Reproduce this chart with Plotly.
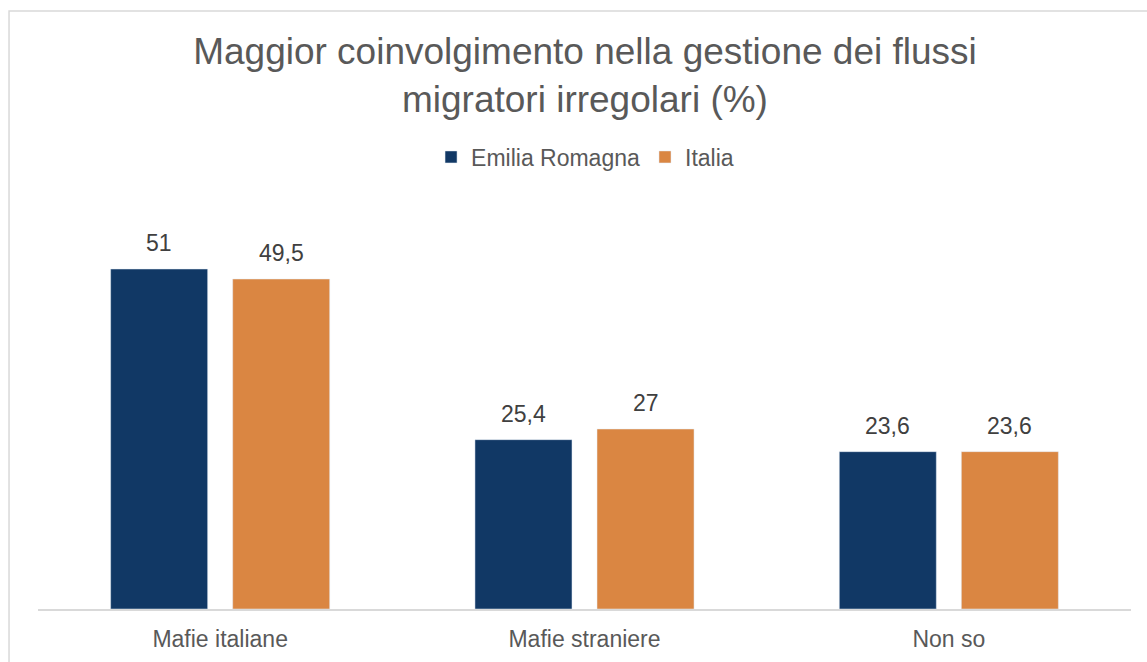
import plotly.graph_objects as go

categories = ["Mafie italiane", "Mafie straniere", "Non so"]
emilia_romagna = [51, 25.4, 23.6]
italia = [49.5, 27, 23.6]

FONT = "Liberation Sans, Arial, sans-serif"
TEXT_GREY = "#595959"
LABEL_GREY = "#404040"
BARGAP = 0.33
SERIES = [("Emilia Romagna", emilia_romagna, "#113865"),
          ("Italia", italia, "#DA8642")]


def fmt(v):
    return f"{v:g}".replace(".", ",")


fig = go.Figure()
annotations = []
slot = (1 - BARGAP) / len(SERIES)
for k, (name, values, color) in enumerate(SERIES):
    fig.add_trace(go.Bar(
        name=name, x=list(range(len(categories))), y=values,
        marker=dict(color=color), hoverinfo="skip",
    ))
    offset = (k - (len(SERIES) - 1) / 2) * slot
    for i, v in enumerate(values):
        annotations.append(dict(
            x=i + offset, y=v, xref="x", yref="y",
            text=fmt(v), showarrow=False, yanchor="bottom", yshift=11,
            font=dict(size=23, color=LABEL_GREY, family=FONT),
        ))

fig.update_layout(
    width=1147, height=662,
    margin=dict(l=38, r=16, t=209, b=53, autoexpand=False),
    paper_bgcolor="white", plot_bgcolor="white",
    barmode="group", bargap=BARGAP, bargroupgap=0.205,
    font=dict(family=FONT, color=TEXT_GREY),
    title=dict(
        text="Maggior coinvolgimento nella gestione dei flussi<br>migratori irregolari (%)",
        x=0.51, xanchor="center", yref="container", y=0.903, yanchor="top",
        font=dict(size=37, color=TEXT_GREY, family=FONT),
    ),
    legend=dict(
        orientation="h", x=0.5005, xanchor="center", y=1.13, yanchor="middle",
        font=dict(size=23, color=TEXT_GREY, family=FONT),
        itemwidth=30, itemclick=False, itemdoubleclick=False,
    ),
    xaxis=dict(
        tickmode="array", tickvals=list(range(len(categories))), ticktext=categories,
        range=[-0.5, len(categories) - 0.5], automargin=False,
        showline=True, linecolor="#D9D9D9", linewidth=1.5,
        ticks="outside", ticklen=9, tickcolor="rgba(0,0,0,0)",
        tickfont=dict(size=23, color=TEXT_GREY, family=FONT),
        showgrid=False, zeroline=False, fixedrange=True,
    ),
    yaxis=dict(
        range=[0, 60], visible=False, showgrid=False, fixedrange=True,
        automargin=False,
    ),
    annotations=annotations,
    shapes=[dict(
        type="path", xref="paper", yref="paper",
        path="M -0.0265,-0.3 L -0.0265,1.495 L 1.2,1.495",
        line=dict(color="#D9D9D9", width=1.5),
        layer="below",
    )],
)

fig.write_html("out.html")
